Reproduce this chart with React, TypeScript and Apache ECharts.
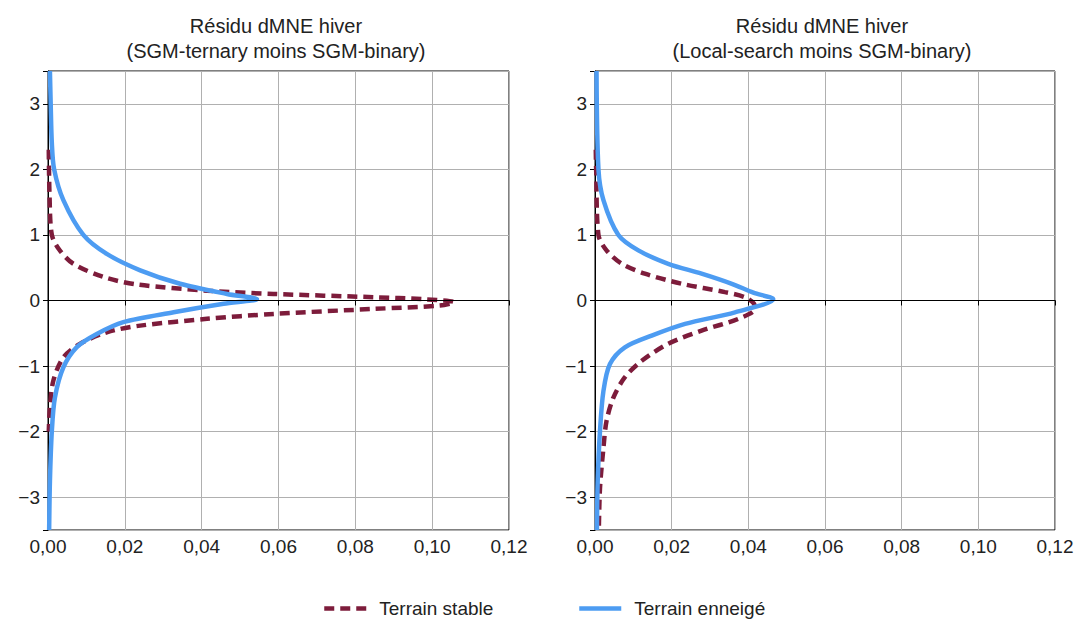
import React, { useEffect, useRef } from "react";
import * as echarts from "echarts";

const xTicks = [0, 0.02, 0.04, 0.06, 0.08, 0.1, 0.12];
const titles = [
  "Résidu dMNE hiver\n(SGM-ternary moins SGM-binary)",
  "Résidu dMNE hiver\n(Local-search moins SGM-binary)",
];
const seriesNames = ["Terrain stable", "Terrain enneigé"];

// Left panel: SGM-ternary minus SGM-binary
const leftStableY = [2.3, 1.6, 1.0, 0.77, 0.56, 0.36, 0.245, 0.15, 0.1, 0.05, 0.02, -0.025, -0.077, -0.128, -0.204, -0.28, -0.383, -0.485, -0.663, -0.867, -1.22, -1.63, -2.0];
const leftStableX = [0.0002, 0.0004, 0.001, 0.003, 0.0066, 0.0144, 0.023, 0.0414, 0.0587, 0.0848, 0.0978, 0.1057, 0.102, 0.0849, 0.0588, 0.0414, 0.024, 0.0153, 0.0083, 0.004, 0.0014, 0.0005, 0.0002];
const leftSnowY = [3.5, 3.0, 2.4, 2.0, 1.53, 1.0, 0.71, 0.46, 0.255, 0.1, 0.02, -0.05, -0.18, -0.33, -0.51, -0.71, -1.02, -1.48, -1.99, -2.76, -3.5];
const leftSnowX = [0.0005, 0.0007, 0.001, 0.0016, 0.004, 0.0092, 0.0153, 0.024, 0.0344, 0.0466, 0.0544, 0.0457, 0.0327, 0.0196, 0.0127, 0.0075, 0.004, 0.0018, 0.001, 0.0005, 0.0003];

// Right panel: Local-search minus SGM-binary
const rightStableY = [2.3, 2.0, 1.0, 0.765, 0.56, 0.41, 0.255, 0.128, 0.05, -0.05, -0.128, -0.28, -0.46, -0.66, -0.92, -1.17, -1.48, -1.84, -2.25, -2.86, -3.5];
const rightStableX = [0.0002, 0.0003, 0.0009, 0.003, 0.007, 0.013, 0.0226, 0.0339, 0.0391, 0.0415, 0.0417, 0.0374, 0.0278, 0.0191, 0.0122, 0.0078, 0.0048, 0.003, 0.0022, 0.0013, 0.001];
const rightSnowY = [3.5, 2.0, 1.53, 1.0, 0.765, 0.56, 0.41, 0.255, 0.12, 0.02, -0.18, -0.357, -0.536, -0.715, -0.97, -1.38, -1.99, -2.76, -3.5];
const rightSnowX = [0.0004, 0.0009, 0.0022, 0.0061, 0.0113, 0.0191, 0.0278, 0.0357, 0.0413, 0.0465, 0.0365, 0.0235, 0.0148, 0.0078, 0.0039, 0.0022, 0.0013, 0.0007, 0.0005];

const STABLE = "#7d1c3b";
const SNOW = "#4d9cf2";
const FONT = "Liberation Sans, Arial, sans-serif";
const DASH = [10, 6];

const pairs = (xs: number[], ys: number[]) => xs.map((x, i) => [x, ys[i]]);

export default function App() {
  const ref = useRef<HTMLDivElement>(null);
  useEffect(() => {
    if (!ref.current) return;
    const chart = echarts.init(ref.current, null, { renderer: "svg" });
    const grids = [
      { left: 48, top: 71, width: 461, height: 459 },
      { left: 595, top: 71, width: 460, height: 459 },
    ];
    const xAxes = grids.map((_, i) => ({
      type: "value",
      gridIndex: i,
      min: xTicks[0],
      max: xTicks[xTicks.length - 1],
      interval: 0.02,
      axisLine: { show: true, lineStyle: { color: "#000", width: 1 } },
      axisTick: { show: true, length: 5, lineStyle: { color: "#000" } },
      axisLabel: {
        color: "#222",
        fontSize: 19,
        fontFamily: FONT,
        margin: 7,
        formatter: (v: number) => v.toFixed(2).replace(".", ","),
      },
      splitLine: { show: true, lineStyle: { color: "#b0b0b0", width: 1 } },
    }));
    const yAxes = grids.map((_, i) => ({
      type: "value",
      gridIndex: i,
      min: -3.5,
      max: 3.5,
      splitNumber: 7,
      axisLine: { show: true, lineStyle: { color: "#000", width: 1 } },
      axisTick: { show: true, length: 5, lineStyle: { color: "#000" } },
      axisLabel: {
        color: "#222",
        fontSize: 19,
        fontFamily: FONT,
        margin: 8,
        formatter: (v: number) =>
          Math.abs(v - Math.round(v)) > 1e-6 ? "" : v < 0 ? "\u2212" + Math.abs(v) : String(v),
      },
      splitLine: { show: true, lineStyle: { color: "#b0b0b0", width: 1 } },
    }));
    const data = [
      [pairs(leftStableX, leftStableY), pairs(leftSnowX, leftSnowY)],
      [pairs(rightStableX, rightStableY), pairs(rightSnowX, rightSnowY)],
    ];
    const series: any[] = [];
    [0, 1].forEach((g) => {
      series.push({
        type: "line",
        xAxisIndex: g,
        yAxisIndex: g,
        data: [],
        z: 1,
        silent: true,
        markLine: {
          silent: true,
          symbol: ["none", "none"],
          label: { show: false },
          lineStyle: { color: "#000", width: 1, type: "solid" },
          data: [{ yAxis: 0 }],
        },
      });
      series.push({
        name: seriesNames[0],
        type: "line",
        xAxisIndex: g,
        yAxisIndex: g,
        data: data[g][0],
        showSymbol: false,
        symbol: "none",
        smooth: 0.3,
        z: 3,
        lineStyle: { color: STABLE, width: 4.5, type: DASH },
        itemStyle: { color: STABLE },
      });
      series.push({
        name: seriesNames[1],
        type: "line",
        xAxisIndex: g,
        yAxisIndex: g,
        data: data[g][1],
        showSymbol: false,
        symbol: "none",
        smooth: 0.3,
        z: 4,
        lineStyle: { color: SNOW, width: 4.5, type: "solid" },
        itemStyle: { color: SNOW },
      });
    });
    const legendBase = {
      top: 599,
      itemWidth: 42,
      itemHeight: 20,
      itemGap: 10,
      padding: 0,
      textStyle: { fontSize: 19, color: "#222", fontFamily: FONT, padding: [0, 0, 0, 8] },
      itemStyle: { opacity: 0 },
    };
    chart.setOption({
      animation: false,
      backgroundColor: "#fff",
      title: titles.map((t, i) => ({
        text: t,
        left: i === 0 ? 271 : 817,
        top: 8,
        textAlign: "center",
        textStyle: {
          fontSize: 20,
          fontWeight: "normal",
          color: "#222",
          fontFamily: FONT,
          lineHeight: 25,
        },
      })),
      grid: grids.map((g) => ({ ...g, show: true, borderColor: "#000", borderWidth: 1, backgroundColor: "transparent" })),
      xAxis: xAxes,
      yAxis: yAxes,
      legend: [
        {
          ...legendBase,
          data: [seriesNames[0]],
          left: 322,
          lineStyle: { width: 4.5, type: DASH, color: STABLE },
        },
        {
          ...legendBase,
          data: [seriesNames[1]],
          left: 577,
          lineStyle: { width: 4.5, type: "solid", color: SNOW },
        },
      ],
      series,
    });
    return () => chart.dispose();
  }, []);
  return (
    <div
      ref={ref}
      style={{ position: "absolute", left: 0, top: 0, width: 1083, height: 624 }}
    />
  );
}
